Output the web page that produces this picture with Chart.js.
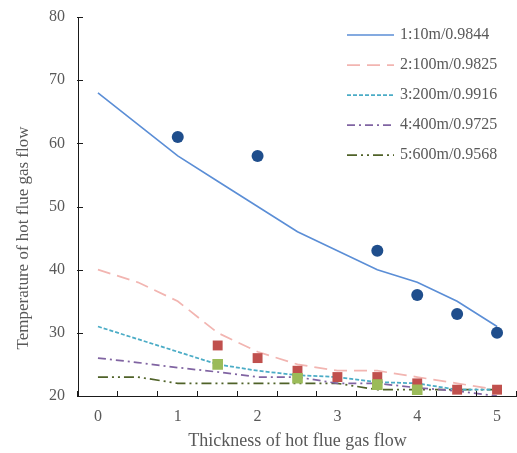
<!DOCTYPE html>
<html lang="en">
<head>
    <meta charset="utf-8">
    <title>Temperature of hot flue gas flow</title>
    <script src="https://cdn.jsdelivr.net/npm/chart.js@4.4.0/dist/chart.umd.min.js"></script>
    <style>
        body {
            margin: 0;
            background: #ffffff;
        }
        #chart {
            display: block;
        }
    </style>
</head>
<body>
    <canvas id="chart" width="517" height="453"></canvas>
    <script>
        // categories on the x axis (only whole numbers get a label)
        const xLabels = ['0', '0.5', '1', '1.5', '2', '2.5', '3', '3.5', '4', '4.5', '5'];
        const yTicks = [20, 30, 40, 50, 60, 70, 80];

        // fitted curves
        const fit10m  = [68, 63, 58, 54, 50, 46, 43, 40, 38, 35, 31];
        const fit100m = [40, 38, 35, 30, 27, 25, 24, 24, 23, 22, 21];
        const fit200m = [31, 29, 27, 25, 24, 23.3, 23, 22.2, 22, 21, 21];
        const fit400m = [26, 25.3, 24.5, 23.8, 23, 23, 22, 22, 21.3, 20.8, 20];
        const fit600m = [23, 23, 22, 22, 22, 22, 22, 21, 21, 21, 21];

        // measured points
        const meas10m  = [null, null, 61, null, 58, null, null, 43, 36, 33, 30];
        const meas100m = [null, null, null, 28, 26, 24, 23, 23, 22, 21, 21];
        const meas200m = [null, null, null, 25, null, 22.8, null, 21.8, 21, null, null];

        const fitNames = ['1:10m/0.9844', '2:100m/0.9825', '3:200m/0.9916', '4:400m/0.9725', '5:600m/0.9568'];

        const FONT = "'Liberation Serif', 'Times New Roman', serif";
        const TEXT = '#595959';
        const AXIS = '#1a1a1a';

        function fitLine(label, data, color, dash, width) {
            return {
                label: label,
                data: data,
                borderColor: color,
                backgroundColor: color,
                borderWidth: width,
                borderDash: dash,
                pointRadius: 0,
                tension: 0,
                order: 3
            };
        }

        function markers(label, data, color, style, radius, order) {
            return {
                label: label,
                data: data,
                showLine: false,
                pointStyle: style,
                pointRadius: radius,
                pointBorderWidth: 0,
                pointBackgroundColor: color,
                borderColor: color,
                order: order
            };
        }

        // inward tick marks, legend and the y title
        const decor = {
            id: 'decor',
            afterDraw(chart) {
                const ctx = chart.ctx;
                const area = chart.chartArea;
                const xs = chart.scales.x;
                const ys = chart.scales.y;

                ctx.save();
                ctx.strokeStyle = AXIS;
                ctx.lineWidth = 1;
                ctx.beginPath();
                ys.ticks.forEach(t => {
                    const py = Math.round(ys.getPixelForValue(t.value)) + 0.5;
                    ctx.moveTo(area.left - 1, py);
                    ctx.lineTo(area.left + 5, py);
                });
                for (let i = 0; i <= xLabels.length; i++) {
                    const px = Math.round(xs.left + i * xs.width / xLabels.length) - 0.5;
                    ctx.moveTo(px, area.bottom);
                    ctx.lineTo(px, area.bottom - 5);
                }
                ctx.stroke();

                // legend
                const lx = area.right - 170;
                let ly = area.top + 18;
                ctx.font = '16px ' + FONT;
                ctx.textBaseline = 'middle';
                ctx.textAlign = 'left';
                chart.data.datasets.forEach(ds => {
                    if (ds.showLine === false) return;
                    ctx.strokeStyle = ds.borderColor;
                    ctx.lineWidth = ds.borderWidth;
                    ctx.setLineDash(ds.borderDash || []);
                    ctx.beginPath();
                    ctx.moveTo(lx, ly);
                    ctx.lineTo(lx + 47, ly);
                    ctx.stroke();
                    ctx.setLineDash([]);
                    ctx.fillStyle = TEXT;
                    ctx.fillText(ds.label, lx + 53, ly);
                    ly += 30;
                });

                // y axis title
                ctx.translate(24, area.bottom - 158);
                ctx.rotate(-Math.PI / 2);
                ctx.textAlign = 'center';
                ctx.font = '17px ' + FONT;
                ctx.fillStyle = TEXT;
                ctx.fillText('Temperature of hot flue gas flow', 0, 0);
                ctx.restore();
            }
        };

        const ctx = document.getElementById('chart').getContext('2d');
        new Chart(ctx, {
            type: 'line',
            data: {
                labels: xLabels,
                datasets: [
                    markers('10m measured', meas10m, '#1F4E8C', 'circle', 6, 1),
                    markers('100m measured', meas100m, '#C0504D', 'rect', 7, 1),
                    markers('200m measured', meas200m, '#9BBB59', 'rect', 7.5, 0),
                    fitLine(fitNames[0], fit10m, '#5B8ED6', [], 1.6),
                    fitLine(fitNames[1], fit100m, '#F2B5B1', [13, 7], 1.75),
                    fitLine(fitNames[2], fit200m, '#4BACC6', [4, 2], 1.75),
                    fitLine(fitNames[3], fit400m, '#8064A2', [8, 4, 2, 4], 1.75),
                    fitLine(fitNames[4], fit600m, '#4F6228', [10, 4, 2, 4, 2, 4], 1.75)
                ]
            },
            options: {
                responsive: false,
                animation: false,
                devicePixelRatio: 1,
                layout: {
                    autoPadding: false,
                    padding: { top: 17, right: 0, bottom: 0, left: 0 }
                },
                plugins: {
                    legend: { display: false },
                    tooltip: { enabled: false }
                },
                scales: {
                    x: {
                        type: 'category',
                        offset: true,
                        grid: { display: true, drawOnChartArea: false, drawTicks: false },
                        border: { display: true, color: AXIS, width: 1 },
                        ticks: {
                            autoSkip: false,
                            maxRotation: 0,
                            padding: 11,
                            color: TEXT,
                            font: { family: FONT, size: 16 },
                            callback: function(value, index) {
                                return index % 2 === 0 ? this.getLabelForValue(value) : '';
                            }
                        },
                        title: {
                            display: true,
                            text: 'Thickness of hot flue gas flow',
                            color: TEXT,
                            font: { family: FONT, size: 18 },
                            padding: { top: 0, bottom: 1 }
                        },
                        afterFit: scale => {
                            scale.height = 57;
                            scale.paddingLeft = 0;
                            scale.paddingRight = 0;
                        }
                    },
                    y: {
                        min: 20,
                        max: 80,
                        afterBuildTicks: scale => {
                            scale.ticks = yTicks.map(v => ({ value: v }));
                        },
                        grid: { display: true, drawOnChartArea: false, drawTicks: false },
                        border: { display: true, color: AXIS, width: 1 },
                        ticks: {
                            padding: 13,
                            color: TEXT,
                            font: { family: FONT, size: 16 }
                        },
                        afterFit: scale => {
                            scale.width = 78;
                            scale.paddingTop = 0;
                            scale.paddingBottom = 0;
                        }
                    }
                }
            },
            plugins: [decor]
        });
    </script>
</body>
</html>
